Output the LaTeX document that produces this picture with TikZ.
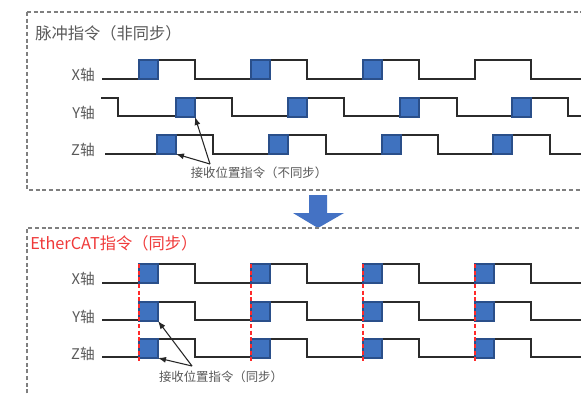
\documentclass[tikz,border=0pt]{standalone}
\usepackage{fontspec}
\newfontfamily\cjk{Noto Sans CJK SC}
\usetikzlibrary{arrows.meta}
\definecolor{sqblue}{HTML}{3F72BF}
\definecolor{sqedge}{HTML}{2A4F8A}
\definecolor{arrblue}{HTML}{4472C4}
\definecolor{txtgray}{HTML}{595959}
\definecolor{boxgray}{HTML}{7F7F7F}
\definecolor{titlered}{HTML}{F03A3A}
\definecolor{syncred}{HTML}{FF2A2A}
\definecolor{wave}{HTML}{2B2B2B}
\tikzset{
  framebox/.style={draw=boxgray, line width=0.9, dash pattern=on 3 off 2},
  waveline/.style={draw=wave, line width=1.2, line join=miter},
  pulse/.style={draw=sqedge, fill=sqblue, line width=0.8, minimum width=19*0.75pt, minimum height=19*0.75pt, inner sep=0, outer sep=0, anchor=north west},
  axislabel/.style={font=\cjk\fontsize{11}{13}\selectfont, text=txtgray, anchor=east, inner sep=0},
  titletext/.style={font=\cjk\fontsize{12.2}{14}\selectfont, anchor=west, inner sep=0},
  notetext/.style={font=\cjk\fontsize{9.3}{11}\selectfont, text=txtgray, inner sep=0},
  notearrow/.style={draw=black!85, line width=0.8, -{Latex[length=6,width=4.5]}},
  syncline/.style={draw=syncred, line width=0.9, dash pattern=on 3 off 2},
}
\begin{document}
\begin{tikzpicture}[x=0.75pt,y=-0.75pt]
\useasboundingbox (0,0) rectangle (581,393);
\clip (0,0) rectangle (581,393);
\fill[white] (0,0) rectangle (581,393);

% ---------- top frame ----------
\draw[framebox] (27,12) -- (590,12);
\draw[framebox] (27,12) -- (27,190) -- (590,190);
\node[titletext, text=txtgray] (t1) at (35,33) {脉冲指令（非同步）};

% labels
\node[axislabel] (lx1) at (95,75) {X轴};
\node[axislabel] (ly1) at (95,113) {Y轴};
\node[axislabel] (lz1) at (95,150) {Z轴};

% waves
\draw[waveline] (102,79) -- (139,79) -- (139,60) -- (195,60) -- (195,79) -- (251,79) -- (251,60) -- (307,60) -- (307,79) -- (363,79) -- (363,60) -- (419,60) -- (419,79) -- (475,79) -- (475,60) -- (531,60) -- (531,79) -- (590,79);
\draw[waveline] (101,98) -- (118,98) -- (118,116) -- (176,116) -- (176,98) -- (232,98) -- (232,116) -- (288,116) -- (288,98) -- (344,98) -- (344,116) -- (400,116) -- (400,98) -- (457,98) -- (457,116) -- (512,116) -- (512,98) -- (568,98) -- (568,116) -- (590,116);
\draw[waveline] (105,154) -- (157,154) -- (157,135) -- (213,135) -- (213,154) -- (269,154) -- (269,135) -- (326,135) -- (326,154) -- (382,154) -- (382,135) -- (438,135) -- (438,154) -- (493,154) -- (493,135) -- (550,135) -- (550,154) -- (590,154);

% pulses
\foreach \x/\n in {139/1,251/2,363/3} \node[pulse] (px\n) at (\x,60) {};
\foreach \x/\n in {176/1,288/2,400/3,512/4} \node[pulse] (py\n) at (\x,98) {};
\foreach \x/\n in {157/1,269/2,382/3,493/4} \node[pulse] (pz\n) at (\x,135) {};

% annotation
\node[notetext] (n1) at (259,173) {接收位置指令（不同步）};
\coordinate (a1) at (210,164);
\draw[notearrow] (a1) -- (py1.south east);
\draw[notearrow] (a1) -- (pz1.south east);

% ---------- big arrow ----------
\fill[arrblue] (309,195) -- (327,195) -- (327,213) -- (344,213) -- (318,228) -- (293,213) -- (309,213) -- cycle;

% ---------- bottom frame ----------
\draw[framebox] (27,400) -- (27,228) -- (590,228);
\node[titletext, text=titlered] (t2) at (30,243) {EtherCAT指令（同步）};

\node[axislabel] (lx2) at (95,279) {X轴};
\node[axislabel] (ly2) at (95,317) {Y轴};
\node[axislabel] (lz2) at (95,354) {Z轴};

\foreach \h/\l in {264/283,302/320,339/357}{
  \draw[waveline] (102,\l) -- (139,\l) -- (139,\h) -- (195,\h) -- (195,\l) -- (251,\l) -- (251,\h) -- (307,\h) -- (307,\l) -- (363,\l) -- (363,\h) -- (419,\h) -- (419,\l) -- (475,\l) -- (475,\h) -- (531,\h) -- (531,\l) -- (590,\l);
}
\foreach \x/\n in {139/1,251/2,363/3,475/4}{
  \node[pulse] (qx\n) at (\x,264) {};
  \node[pulse] (qy\n) at (\x,302) {};
  \node[pulse] (qz\n) at (\x,339) {};
  \draw[syncline] (qx\n.north west) -- ([yshift=-3*0.75pt]qz\n.south west);
}

\node[notetext] (n2) at (221,377) {接收位置指令（同步）};
\coordinate (a2) at (192,366);
\draw[notearrow] (a2) -- (qy1.south east);
\draw[notearrow] (a2) -- (qz1.south east);
\end{tikzpicture}
\end{document}
